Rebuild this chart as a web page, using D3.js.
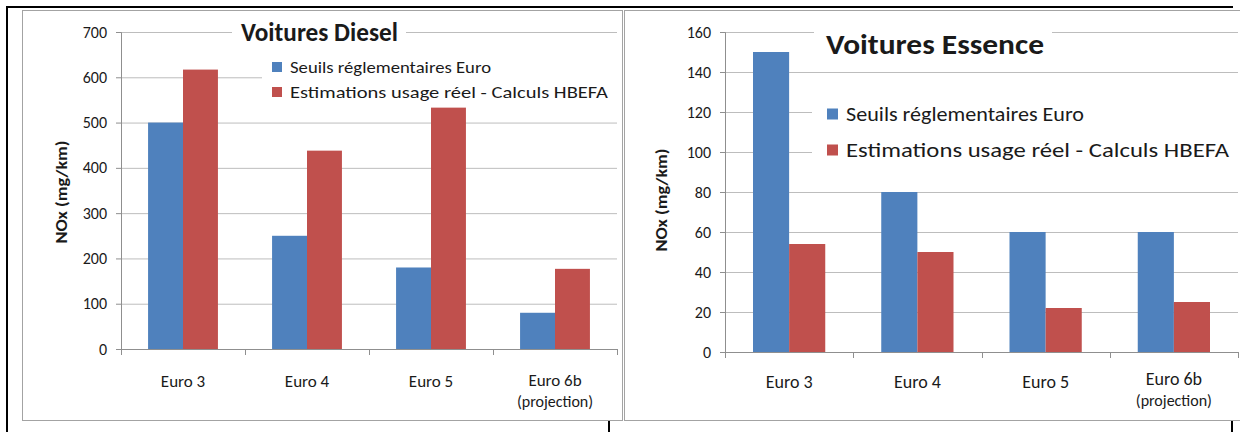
<!DOCTYPE html>
<html>
<head>
<meta charset="utf-8">
<script src="https://cdn.jsdelivr.net/npm/d3@7"></script>
<style>
  body { margin: 0; background: #fff; }
  text { font-family: Carlito, Lato, "Open Sans", sans-serif; fill: #1a1a1a; }
</style>
</head>
<body>
<svg id="chart" width="1240" height="432"></svg>
<script>
// données
var categories = ['Euro 3', 'Euro 4', 'Euro 5', 'Euro 6b'];
var subLabels = ['', '', '', '(projection)'];
var seriesNames = ['Seuils réglementaires Euro', 'Estimations usage réel - Calculs HBEFA'];
var seriesColors = ['#4f81bd', '#c0504d'];

var dieselSeuils = [500, 250, 180, 80];
var dieselHbefa = [617, 438, 533, 177];
var dieselTicks = [0, 100, 200, 300, 400, 500, 600, 700];

var essenceSeuils = [150, 80, 60, 60];
var essenceHbefa = [54, 50, 22, 25];
var essenceTicks = [0, 20, 40, 60, 80, 100, 120, 140, 160];

var svg = d3.select('#chart');

// cadre du tableau (noir), dessiné sous les graphiques
var frame = svg.append('g').attr('stroke', '#000').attr('stroke-width', 2);
frame.append('line').attr('x1', 7).attr('y1', 7).attr('x2', 7).attr('y2', 432);
frame.append('line').attr('x1', 6).attr('y1', 7).attr('x2', 1233).attr('y2', 7);
frame.append('line').attr('x1', 609).attr('y1', 420).attr('x2', 609).attr('y2', 432);
frame.append('line').attr('x1', 1232).attr('y1', 420).attr('x2', 1232).attr('y2', 432);

function drawChart(cfg) {
    var g = svg.append('g');

    // fond + bordure grise
    g.append('rect')
        .attr('x', cfg.box[0] + 0.5).attr('y', cfg.box[1] + 0.5)
        .attr('width', cfg.box[2] - cfg.box[0]).attr('height', cfg.box[3] - cfg.box[1])
        .attr('fill', '#fff').attr('stroke', '#a3a3a3');

    var x = d3.scaleBand().domain(categories).range([cfg.x0, cfg.x1]);
    var xs = d3.scaleBand().domain([0, 1]).range([0, x.bandwidth()]).paddingOuter(0.775);
    var y = d3.scaleLinear().domain([0, cfg.max]).range([cfg.y0, cfg.y1]);

    // grille
    g.append('g')
        .attr('transform', 'translate(' + cfg.x0 + ',0)')
        .call(d3.axisLeft(y).tickValues(cfg.ticks).tickSize(-(cfg.x1 - cfg.x0)).tickFormat(''))
        .call(function (s) { s.select('.domain').remove(); })
        .selectAll('line').attr('stroke', '#bdbdbd');

    // boîtes blanches du titre et de la légende (masquent la grille)
    g.append('rect').attr('x', cfg.titleBox[0]).attr('y', cfg.titleBox[1])
        .attr('width', cfg.titleBox[2] - cfg.titleBox[0]).attr('height', cfg.titleBox[3] - cfg.titleBox[1])
        .attr('fill', '#fff');
    g.append('rect').attr('x', cfg.legendBox[0]).attr('y', cfg.legendBox[1])
        .attr('width', cfg.legendBox[2] - cfg.legendBox[0]).attr('height', cfg.legendBox[3] - cfg.legendBox[1])
        .attr('fill', '#fff');

    // barres
    var rows = categories.map(function (c, i) {
        return { cat: c, vals: [cfg.series[0][i], cfg.series[1][i]] };
    });
    g.append('g').selectAll('g')
        .data(rows)
        .enter()
        .append('g')
        .attr('transform', function (d) { return 'translate(' + x(d.cat) + ',0)'; })
        .selectAll('rect')
        .data(function (d) { return d.vals; })
        .enter()
        .append('rect')
        .attr('x', function (d, i) { return xs(i); })
        .attr('width', xs.bandwidth())
        .attr('y', function (d) { return y(d); })
        .attr('height', function (d) { return y(0) - y(d); })
        .attr('fill', function (d, i) { return seriesColors[i]; });

    // axe Y
    var ya = g.append('g')
        .attr('transform', 'translate(' + cfg.x0 + ',0)')
        .call(d3.axisLeft(y).tickValues(cfg.ticks).tickSize(5).tickPadding(9));
    ya.select('.domain').attr('stroke', '#8f8f8f');
    ya.selectAll('.tick line').attr('stroke', '#8f8f8f');
    ya.selectAll('.tick text').attr('font-size', cfg.tickSize).attr('fill', '#1a1a1a')
        .style('font-family', 'Carlito, Lato, "Open Sans", sans-serif');

    // axe X : ligne + graduations aux limites des catégories
    var xa = g.append('g');
    xa.append('line').attr('x1', cfg.x0).attr('x2', cfg.x1)
        .attr('y1', y(0) + 0.5).attr('y2', y(0) + 0.5).attr('stroke', '#8f8f8f');
    var bounds = categories.map(function (c) { return x(c); }).concat([cfg.x1]);
    xa.selectAll('.xt').data(bounds).enter().append('line')
        .attr('x1', function (d) { return Math.round(d) + 0.5; })
        .attr('x2', function (d) { return Math.round(d) + 0.5; })
        .attr('y1', y(0)).attr('y2', y(0) + 6).attr('stroke', '#8f8f8f');
    xa.selectAll('.cl').data(categories).enter().append('text')
        .attr('x', function (d) { return x(d) + x.bandwidth() / 2; })
        .attr('y', function (d, i) { return subLabels[i] ? cfg.catY - cfg.lift : cfg.catY; })
        .attr('text-anchor', 'middle').attr('dominant-baseline', 'central')
        .attr('font-size', cfg.catSize)
        .text(function (d) { return d; });
    xa.selectAll('.sl').data(categories.filter(function (d, i) { return subLabels[i]; })).enter().append('text')
        .attr('x', function (d) { return x(d) + x.bandwidth() / 2; })
        .attr('y', cfg.subY)
        .attr('text-anchor', 'middle').attr('dominant-baseline', 'central')
        .attr('font-size', cfg.subSize)
        .text(function (d) { return subLabels[categories.indexOf(d)]; });

    // titre de l'axe Y
    g.append('text')
        .attr('transform', 'translate(' + cfg.yTitle[0] + ',' + cfg.yTitle[1] + ') rotate(-90)')
        .attr('text-anchor', 'middle').attr('dominant-baseline', 'central')
        .attr('font-size', 16).attr('font-weight', 'bold')
        .attr('textLength', cfg.yTitle[2]).attr('lengthAdjust', 'spacingAndGlyphs')
        .text('NOx (mg/km)');

    // titre
    g.append('text')
        .attr('x', cfg.title[0]).attr('y', cfg.title[1])
        .attr('dominant-baseline', 'central')
        .attr('font-size', cfg.title[3]).attr('font-weight', 'bold').attr('fill', '#000')
        .attr('textLength', cfg.title[2]).attr('lengthAdjust', 'spacingAndGlyphs')
        .text(cfg.titleText);

    // légende
    var lg = g.append('g').selectAll('g')
        .data(seriesNames)
        .enter()
        .append('g')
        .attr('transform', function (d, i) { return 'translate(' + cfg.legend.x + ',' + cfg.legend.y[i] + ')'; });
    lg.append('rect')
        .attr('x', 0).attr('y', -cfg.legend.sq / 2)
        .attr('width', cfg.legend.sq).attr('height', cfg.legend.sq)
        .attr('fill', function (d, i) { return seriesColors[i]; });
    lg.append('text')
        .attr('x', cfg.legend.tx).attr('y', 0)
        .attr('dominant-baseline', 'central')
        .attr('font-size', cfg.legend.size)
        .attr('textLength', function (d, i) { return cfg.legend.len[i]; })
        .attr('lengthAdjust', 'spacingAndGlyphs')
        .text(function (d) { return d; });
}

drawChart({
    box: [22, 10, 622, 420],
    x0: 121, x1: 617, y0: 349, y1: 32,
    max: 700, ticks: dieselTicks,
    series: [dieselSeuils, dieselHbefa],
    tickSize: 16, catSize: 17, subSize: 16, catY: 381, lift: 1, subY: 401,
    yTitle: [61, 192, 103],
    titleText: 'Voitures Diesel', title: [241, 32, 157, 26],
    titleBox: [232, 18, 406, 48],
    legendBox: [262, 56, 617, 104],
    legend: { x: 272, y: [67, 92], sq: 10, tx: 18, size: 17, len: [201, 318] }
});

drawChart({
    box: [624, 10, 1250, 420],
    x0: 725, x1: 1238, y0: 352, y1: 32,
    max: 160, ticks: essenceTicks,
    series: [essenceSeuils, essenceHbefa],
    tickSize: 16, catSize: 18, subSize: 16, catY: 382, lift: 3, subY: 400,
    yTitle: [661, 200, 103],
    titleText: 'Voitures Essence', title: [826, 44, 218, 28],
    titleBox: [814, 20, 1052, 64],
    legendBox: [812, 96, 1238, 168],
    legend: { x: 827, y: [114, 150], sq: 11, tx: 19, size: 20, len: [238, 383] }
});
</script>
</body>
</html>
